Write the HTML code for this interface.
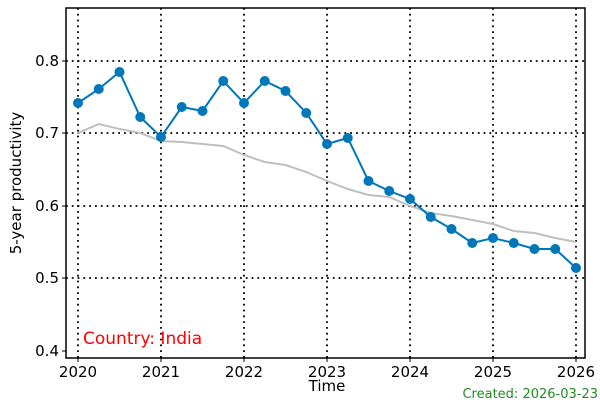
<!DOCTYPE html>
<html><head><meta charset="utf-8"><style>body{margin:0;background:#fff}svg text{font-family:"DejaVu Sans","Liberation Sans",sans-serif}</style></head><body>
<svg width="600" height="400" viewBox="0 0 600 400" xmlns="http://www.w3.org/2000/svg">
<rect width="600" height="400" fill="#fff"/>
<g stroke="#000" stroke-width="1.8" stroke-dasharray="1.8,4">
<line x1="78" y1="8" x2="78" y2="358"/><line x1="161" y1="8" x2="161" y2="358"/><line x1="244" y1="8" x2="244" y2="358"/><line x1="327" y1="8" x2="327" y2="358"/><line x1="410" y1="8" x2="410" y2="358"/><line x1="493" y1="8" x2="493" y2="358"/><line x1="576" y1="8" x2="576" y2="358"/>
<line x1="66" y1="61" x2="585" y2="61"/><line x1="66" y1="133" x2="585" y2="133"/><line x1="66" y1="206" x2="585" y2="206"/><line x1="66" y1="278" x2="585" y2="278"/>
</g>
<polyline fill="none" stroke="#bfbfbf" stroke-width="2" points="78,133 98.75,124 119.5,129 140.25,133 161,141 181.75,142 202.5,144 223.25,146 244,155 264.75,162 285.5,165 306.25,172 327,181 347.75,189 368.5,195 389.25,197 410,206 430.75,213 451.5,216 472.25,220 493,224 513.75,231 534.5,233 555.25,238 576,242"/>
<g fill="#0077bb">
<polyline fill="none" stroke="#0077bb" stroke-width="2" points="78,103 98.75,89 119.5,72 140.25,117 161,137 181.75,107 202.5,111 223.25,81 244,103 264.75,81 285.5,91 306.25,113 327,144 347.75,138 368.5,181 389.25,191 410,199 430.75,217 451.5,229 472.25,243 493,238 513.75,243 534.5,249 555.25,249 576,268"/>
<circle cx="78" cy="103" r="5"/><circle cx="98.75" cy="89" r="5"/><circle cx="119.5" cy="72" r="5"/><circle cx="140.25" cy="117" r="5"/><circle cx="161" cy="137" r="5"/><circle cx="181.75" cy="107" r="5"/><circle cx="202.5" cy="111" r="5"/><circle cx="223.25" cy="81" r="5"/><circle cx="244" cy="103" r="5"/><circle cx="264.75" cy="81" r="5"/><circle cx="285.5" cy="91" r="5"/><circle cx="306.25" cy="113" r="5"/><circle cx="327" cy="144" r="5"/><circle cx="347.75" cy="138" r="5"/><circle cx="368.5" cy="181" r="5"/><circle cx="389.25" cy="191" r="5"/><circle cx="410" cy="199" r="5"/><circle cx="430.75" cy="217" r="5"/><circle cx="451.5" cy="229" r="5"/><circle cx="472.25" cy="243" r="5"/><circle cx="493" cy="238" r="5"/><circle cx="513.75" cy="243" r="5"/><circle cx="534.5" cy="249" r="5"/><circle cx="555.25" cy="249" r="5"/><circle cx="576" cy="268" r="5"/>
</g>
<rect x="66" y="8" width="519" height="350" fill="none" stroke="#000" stroke-width="1.5"/>
<g stroke="#000" stroke-width="1">
<line x1="78" y1="358" x2="78" y2="362"/><line x1="161" y1="358" x2="161" y2="362"/><line x1="244" y1="358" x2="244" y2="362"/><line x1="327" y1="358" x2="327" y2="362"/><line x1="410" y1="358" x2="410" y2="362"/><line x1="493" y1="358" x2="493" y2="362"/><line x1="576" y1="358" x2="576" y2="362"/>
<line x1="62" y1="61" x2="66" y2="61"/><line x1="62" y1="133" x2="66" y2="133"/><line x1="62" y1="206" x2="66" y2="206"/><line x1="62" y1="278" x2="66" y2="278"/><line x1="62" y1="351" x2="66" y2="351"/>
</g>
<g font-size="15" fill="#000" text-anchor="middle">
<text x="78" y="377">2020</text><text x="161" y="377">2021</text><text x="244" y="377">2022</text><text x="327" y="377">2023</text><text x="410" y="377">2024</text><text x="493" y="377">2025</text><text x="576" y="377">2026</text>
<text x="327" y="391">Time</text>
</g>
<g font-size="15" fill="#000" text-anchor="end">
<text x="59" y="66">0.8</text><text x="59" y="138">0.7</text><text x="59" y="211">0.6</text><text x="59" y="283">0.5</text><text x="59" y="356">0.4</text>
</g>
<text x="0" y="0" font-size="15" text-anchor="middle" transform="translate(21,183) rotate(-90)">5-year productivity</text>
<text x="83" y="344" font-size="17" fill="#ff0000">Country: India</text>
<text x="598" y="398" font-size="13" fill="#228b22" text-anchor="end">Created: 2026-03-23</text>
</svg>
</body></html>
